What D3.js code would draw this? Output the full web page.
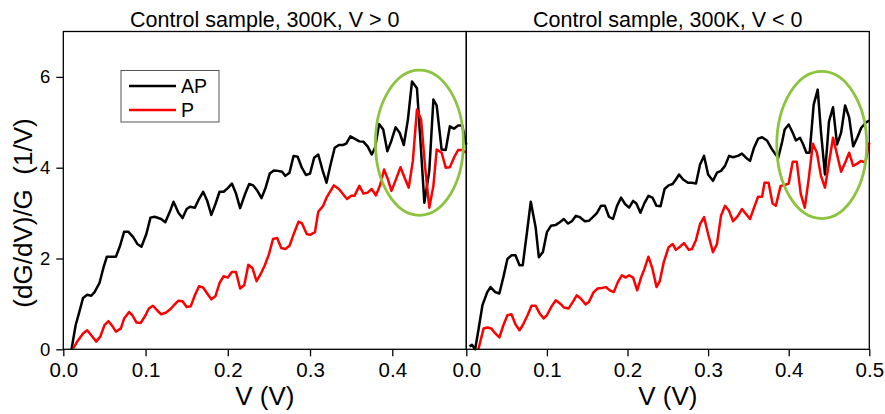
<!DOCTYPE html>
<html lang="en">
    <head>
        <meta charset="utf-8">
        <title>Control sample dG/dV</title>
        <script type="text/javascript" src="https://cdn.jsdelivr.net/npm/d3@7"></script>
        <style>
            body { margin: 0; background: white; }
            text { font-family: Arial, "Liberation Sans", sans-serif; fill: black; }
        </style>
    </head>
    <body>
        <script type="text/javascript">
            const w = 885
            const h = 414

            // [V, (dG/dV)/G]
            const apPos = [[0.010,0],[0.015,0.53],[0.019,0.79],[0.024,1.13],[0.029,1.2],[0.034,1.18],[0.038,1.26],[0.044,1.46],[0.049,1.81],[0.053,2.04],[0.064,2.04],[0.069,2.28],[0.074,2.59],[0.079,2.59],[0.085,2.47],[0.090,2.32],[0.095,2.26],[0.101,2.54],[0.106,2.9],[0.111,2.92],[0.119,2.87],[0.124,2.8],[0.130,3.05],[0.134,3.25],[0.140,3.01],[0.145,2.89],[0.150,3.09],[0.154,3.14],[0.160,3.12],[0.165,3.31],[0.170,3.47],[0.175,3.27],[0.180,2.96],[0.185,3.2],[0.190,3.47],[0.195,3.47],[0.200,3.55],[0.205,3.65],[0.210,3.43],[0.215,3.11],[0.221,3.42],[0.226,3.64],[0.231,3.61],[0.236,3.49],[0.241,3.33],[0.246,3.56],[0.251,3.87],[0.256,3.94],[0.261,3.93],[0.266,3.91],[0.270,3.82],[0.275,3.89],[0.280,4.26],[0.285,4.24],[0.290,4.0],[0.295,3.84],[0.300,3.87],[0.305,4.22],[0.310,4.29],[0.315,3.96],[0.320,3.67],[0.325,4.07],[0.330,4.44],[0.335,4.5],[0.340,4.5],[0.344,4.53],[0.349,4.69],[0.354,4.64],[0.360,4.58],[0.365,4.57],[0.370,4.47],[0.375,4.29],[0.379,4.44],[0.384,4.96],[0.389,4.84],[0.394,4.36],[0.399,4.6],[0.404,4.89],[0.409,4.77],[0.414,4.5],[0.419,5.06],[0.424,5.9],[0.430,5.75],[0.434,4.66],[0.439,3.23],[0.445,3.93],[0.450,5.5],[0.454,5.37],[0.460,4.4],[0.465,4.39],[0.470,4.91],[0.475,4.86],[0.480,4.93],[0.485,4.93],[0.490,4.51]]
            const pPos = [[0.012,0.02],[0.017,0.17],[0.024,0.35],[0.029,0.42],[0.034,0.31],[0.040,0.17],[0.045,0.28],[0.050,0.53],[0.055,0.62],[0.060,0.5],[0.064,0.39],[0.070,0.46],[0.074,0.68],[0.080,0.82],[0.084,0.75],[0.089,0.59],[0.094,0.58],[0.100,0.75],[0.104,0.9],[0.109,0.96],[0.114,0.86],[0.119,0.77],[0.125,0.81],[0.130,0.88],[0.134,0.96],[0.140,1.07],[0.145,1.06],[0.150,0.93],[0.155,0.95],[0.160,1.19],[0.165,1.39],[0.170,1.36],[0.175,1.23],[0.180,1.1],[0.185,1.17],[0.190,1.46],[0.195,1.61],[0.200,1.58],[0.205,1.7],[0.210,1.7],[0.215,1.34],[0.220,1.41],[0.225,1.86],[0.230,1.79],[0.235,1.5],[0.240,1.66],[0.245,1.85],[0.250,2.09],[0.255,2.43],[0.260,2.45],[0.265,2.23],[0.270,2.21],[0.275,2.28],[0.281,2.58],[0.286,2.81],[0.290,2.78],[0.296,2.54],[0.300,2.52],[0.306,2.58],[0.310,3.03],[0.316,3.16],[0.320,3.34],[0.329,3.61],[0.335,3.53],[0.340,3.42],[0.345,3.31],[0.350,3.38],[0.354,3.38],[0.360,3.6],[0.365,3.43],[0.370,3.45],[0.375,3.53],[0.380,3.39],[0.385,3.6],[0.390,3.96],[0.394,3.78],[0.399,3.49],[0.404,3.72],[0.410,4.01],[0.415,3.78],[0.420,3.56],[0.425,4.15],[0.430,5.28],[0.435,5.06],[0.440,4.0],[0.445,3.12],[0.450,3.6],[0.454,4.4],[0.460,4.33],[0.465,4.0],[0.470,4.01],[0.475,4.22],[0.480,4.39],[0.485,4.39],[0.490,4.33]]
            const apNeg = [[0.004,0.06],[0.007,0.1],[0.011,0],[0.015,0.42],[0.020,0.97],[0.026,1.26],[0.030,1.37],[0.036,1.26],[0.041,1.23],[0.046,1.59],[0.051,1.99],[0.056,2.07],[0.061,2.07],[0.066,1.85],[0.070,1.85],[0.075,2.54],[0.080,3.25],[0.086,2.69],[0.090,2.03],[0.095,2.14],[0.100,2.58],[0.105,2.72],[0.111,2.74],[0.116,2.8],[0.121,2.87],[0.126,2.77],[0.131,2.82],[0.136,2.94],[0.141,2.91],[0.147,2.82],[0.152,2.83],[0.157,2.91],[0.162,3.0],[0.167,3.16],[0.172,3.16],[0.177,2.92],[0.182,2.87],[0.187,3.16],[0.192,3.34],[0.197,3.2],[0.202,3.12],[0.207,3.27],[0.211,3.21],[0.216,3.01],[0.221,3.22],[0.226,3.38],[0.231,3.34],[0.236,3.16],[0.241,3.15],[0.246,3.53],[0.251,3.61],[0.256,3.64],[0.260,3.74],[0.264,3.85],[0.269,3.74],[0.275,3.67],[0.280,3.67],[0.285,3.65],[0.290,4.07],[0.295,4.26],[0.300,3.85],[0.306,3.71],[0.311,3.89],[0.316,3.93],[0.321,4.04],[0.326,4.26],[0.331,4.23],[0.337,4.26],[0.342,4.31],[0.347,4.22],[0.352,4.15],[0.357,4.44],[0.362,4.64],[0.367,4.67],[0.373,4.6],[0.378,4.44],[0.383,4.31],[0.387,4.22],[0.392,4.58],[0.395,4.84],[0.400,4.95],[0.405,4.77],[0.409,4.6],[0.414,4.66],[0.418,4.51],[0.422,4.33],[0.426,4.33],[0.431,5.39],[0.436,5.72],[0.440,4.8],[0.445,3.85],[0.450,5.02],[0.455,5.33],[0.460,4.51],[0.465,4.77],[0.470,5.37],[0.475,5.11],[0.480,4.47],[0.485,4.66],[0.490,4.88],[0.496,5.0],[0.500,5.04]]
            const pNeg = [[0.015,0],[0.0215,0.46],[0.026,0.48],[0.031,0.46],[0.036,0.35],[0.041,0.26],[0.046,0.53],[0.051,0.75],[0.056,0.77],[0.061,0.55],[0.066,0.42],[0.070,0.53],[0.076,0.75],[0.081,0.96],[0.086,0.96],[0.091,0.79],[0.096,0.68],[0.100,0.75],[0.106,0.95],[0.111,1.08],[0.117,1.0],[0.121,0.92],[0.127,0.9],[0.132,1.04],[0.137,1.19],[0.142,1.12],[0.148,0.99],[0.152,1.04],[0.158,1.26],[0.163,1.34],[0.168,1.35],[0.173,1.37],[0.178,1.3],[0.183,1.26],[0.188,1.48],[0.193,1.63],[0.198,1.58],[0.202,1.63],[0.207,1.58],[0.212,1.3],[0.217,1.59],[0.221,1.77],[0.226,2.04],[0.231,1.77],[0.236,1.37],[0.240,1.5],[0.245,1.92],[0.251,2.25],[0.256,2.32],[0.260,2.19],[0.265,2.26],[0.270,2.34],[0.276,2.19],[0.280,2.21],[0.285,2.41],[0.290,2.76],[0.295,2.91],[0.300,2.54],[0.306,2.14],[0.311,2.32],[0.316,2.94],[0.321,3.16],[0.326,3.05],[0.331,2.82],[0.337,2.94],[0.342,3.09],[0.347,2.98],[0.352,2.87],[0.357,3.12],[0.362,3.36],[0.367,3.36],[0.370,3.67],[0.375,3.67],[0.380,3.21],[0.384,3.16],[0.390,3.6],[0.395,3.62],[0.400,3.65],[0.405,4.13],[0.410,4.13],[0.415,3.42],[0.420,3.12],[0.425,3.78],[0.430,4.53],[0.435,4.33],[0.440,3.82],[0.445,3.56],[0.450,4.11],[0.455,4.66],[0.460,4.29],[0.465,3.91],[0.470,4.11],[0.475,4.33],[0.480,4.04],[0.485,4.09],[0.490,4.15],[0.495,4.11],[0.500,4.55]]

            const titles = ["Control sample, 300K, V > 0", "Control sample, 300K, V < 0"]
            const xTicksLeft = [0, 0.1, 0.2, 0.3, 0.4]
            const xTicksRight = [0, 0.1, 0.2, 0.3, 0.4, 0.5]
            const yTicks = [0, 2, 4, 6]
            const seriesNames = ["AP", "P"]
            const seriesColors = ["black", "#ff0000"]
            // highlighted noisy region: [centre V, centre G, half-width V, half-height G]
            const ovals = [[0.433, 4.55, 0.0535, 1.6], [0.441, 4.5, 0.0558, 1.62]]

            const yTop = 31.5, yBottom = 349.3
            const y = d3.scaleLinear().domain([0, 7]).range([yBottom, yTop])
            const xL = d3.scaleLinear().domain([0, 0.49]).range([63.3, 466.3])
            const xR = d3.scaleLinear().domain([0, 0.5]).range([466.3, 869.3])

            let svg = d3.select("body")
                        .append("svg")
                            .attr("width", w)
                            .attr("height", h)

            const panels = [
                {x: xL, ticks: xTicksLeft, data: [apPos, pPos], title: titles[0], oval: ovals[0]},
                {x: xR, ticks: xTicksRight, data: [apNeg, pNeg], title: titles[1], oval: ovals[1]}
            ]

            panels.forEach((p, i) => {
                let g = svg.append("g")
                let x0 = p.x.range()[0], x1 = p.x.range()[1]

                let line = d3.line().x(d => p.x(d[0])).y(d => y(d[1]))
                g.selectAll("path.series")
                    .data(p.data)
                    .enter()
                    .append("path")
                        .attr("class", "series")
                        .attr("d", line)
                        .attr("fill", "none")
                        .attr("stroke", (d, k) => seriesColors[k])
                        .attr("stroke-width", 2.5)
                        .attr("stroke-linejoin", "round")

                // green ellipse
                g.append("ellipse")
                    .attr("cx", p.x(p.oval[0]))
                    .attr("cy", y(p.oval[1]))
                    .attr("rx", p.x(p.oval[0] + p.oval[2]) - p.x(p.oval[0]))
                    .attr("ry", y(p.oval[1] - p.oval[3]) - y(p.oval[1]))
                    .attr("fill", "none")
                    .attr("stroke", "#8cc43f")
                    .attr("stroke-width", 2.8)

                // frame
                g.append("rect")
                    .attr("x", x0)
                    .attr("y", yTop)
                    .attr("width", x1 - x0)
                    .attr("height", yBottom - yTop)
                    .attr("fill", "none")
                    .attr("stroke", "black")
                    .attr("stroke-width", 1.3)

                let xAxis = d3.axisBottom(p.x).tickValues(p.ticks).tickFormat(d3.format(".1f"))
                                .tickSizeInner(7).tickSizeOuter(0).tickPadding(6)
                let ax = g.append("g").attr("transform", "translate(0," + yBottom + ")").call(xAxis)
                ax.select(".domain").remove()
                ax.selectAll("line").attr("stroke-width", 1.3)
                ax.selectAll("text").attr("font-size", "20.5px").attr("font-family", null)

                if (i === 0) {
                    let yAxis = d3.axisLeft(y).tickValues(yTicks).tickFormat(d3.format("d"))
                                    .tickSizeInner(7).tickSizeOuter(0).tickPadding(6)
                    let ay = g.append("g").attr("transform", "translate(" + x0 + ",0)").call(yAxis)
                    ay.select(".domain").remove()
                    ay.selectAll("line").attr("stroke-width", 1.3)
                    ay.selectAll("text").attr("font-size", "18.5px").attr("font-family", null)
                }

                g.append("text")
                    .attr("x", (x0 + x1) / 2)
                    .attr("y", 26.5)
                    .attr("text-anchor", "middle")
                    .attr("font-size", "21.5px")
                    .text(p.title)

                g.append("text")
                    .attr("x", (x0 + x1) / 2)
                    .attr("y", 405)
                    .attr("text-anchor", "middle")
                    .attr("font-size", "26px")
                    .text("V (V)")
            })

            svg.append("text")
                .attr("transform", "translate(32,213) rotate(-90)")
                .attr("text-anchor", "middle")
                .attr("font-size", "26px")
                .style("white-space", "pre")
                .text("(dG/dV)/G  (1/V)")

            // legend
            let legend = svg.append("g")
            legend.append("rect")
                .attr("x", 121)
                .attr("y", 70.5)
                .attr("width", 98)
                .attr("height", 51.5)
                .attr("fill", "white")
                .attr("stroke", "#555")
                .attr("stroke-width", 1)
            seriesNames.forEach((name, k) => {
                legend.append("line")
                    .attr("x1", 129).attr("x2", 176)
                    .attr("y1", 86 + k * 24).attr("y2", 86 + k * 24)
                    .attr("stroke", seriesColors[k])
                    .attr("stroke-width", 2.5)
                legend.append("text")
                    .attr("x", 181)
                    .attr("y", 93 + k * 24)
                    .attr("font-size", "19.5px")
                    .text(name)
            })
        </script>
    </body>
</html>
